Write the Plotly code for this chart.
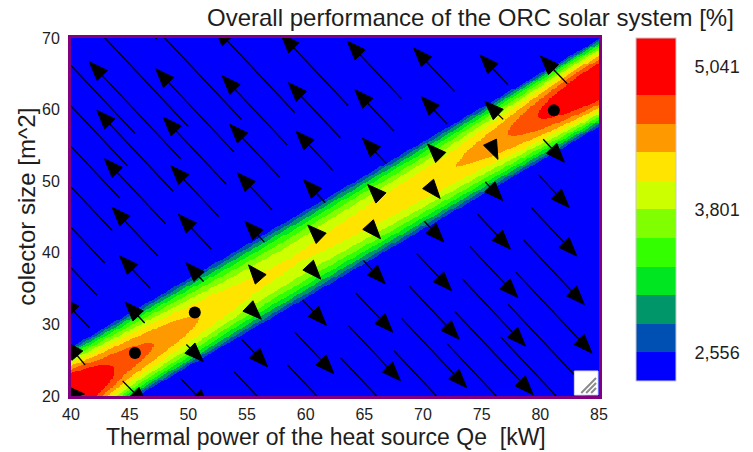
import numpy as np
import plotly.graph_objects as go

# ---- axes -------------------------------------------------------------
x_range = [40, 85]
y_range = [20, 70]
x_ticks = [40, 45, 50, 55, 60, 65, 70, 75, 80, 85]
y_ticks = [20, 30, 40, 50, 60, 70]

# ---- colour bar: labelled levels and band colours (bottom -> top) -----
bar_values = [2.556, 3.801, 5.041]
bar_labels = ["2,556", "3,801", "5,041"]
band_colors = ["#0000FF", "#0050B4", "#00966A", "#00E620", "#33FF00", "#80FF00",
               "#CCFF00", "#FFE400", "#FF9900", "#FF5000", "#FF0000", "#FF0000"]

# ---- ridge of the performance surface ---------------------------------
ridge_x = [40.0, 85.0]          # centre line end points (Qe)
ridge_y = [20.7, 63.7]          # centre line end points (collector size)
ridge_half_width = 4.41         # normal distance to the 2,556 contour
peak_x = [40, 43.5, 46.9, 50.6, 55, 59, 63, 68, 73.5, 77.5, 80, 85]
peak_val = [5.5, 4.80, 4.55, 4.31, 4.12, 4.06, 4.12, 4.20, 4.31, 4.55, 4.80, 5.35]
falloff = 1.5                   # drop outside the ridge band

# ---- vector grid ------------------------------------------------------
vec_x = [40.35, 45.45, 50.55, 55.65, 60.75, 65.85, 70.95, 76.05, 81.15]
vec_y = [20.35, 26.0, 31.65, 37.3, 42.95, 48.6, 54.25, 59.9, 65.55]

# ---- page geometry (pixels) -------------------------------------------
W, H = 753, 452
PL, PR, PT, PB = 71, 607, 38, 396
ppx = (PR - PL) / (x_range[1] - x_range[0])
ppy = (PB - PT) / (y_range[1] - y_range[0])


def xp(px):
    return (px - PL) / (PR - PL)


def yp(py):
    return (PB - py) / (PB - PT)


slope = (ridge_y[1] - ridge_y[0]) / (ridge_x[1] - ridge_x[0])
nrm = np.sqrt(1 + slope * slope)
base = bar_values[0]


def performance(X, Y):
    d = ((Y - ridge_y[0]) - slope * (X - ridge_x[0])) / nrm
    s = ridge_x[0] + ((X - ridge_x[0]) + slope * (Y - ridge_y[0])) / (1 + slope * slope)
    P = np.interp(s, peak_x, peak_val)
    q = (d / ridge_half_width) ** 2
    inside = base + (P - base) * (1 - q)
    outside = base - falloff * (q - 1)
    return np.where(q <= 1, inside, outside)


# ---- filled surface -----------------------------------------------------
gx = np.arange(x_range[0], x_range[1] + 1e-9, 0.125)
gy = np.arange(y_range[0], y_range[1] + 1e-9, 0.125)
GX, GY = np.meshgrid(gx, gy)
Z = np.round(performance(GX, GY), 3)

step = (bar_values[2] - bar_values[0]) / 10
zmin = bar_values[0] - step
zmax = bar_values[2] + step
n = len(band_colors)
cscale = []
for i, c in enumerate(band_colors):
    cscale.append([i / n, c])
    cscale.append([(i + 1) / n, c])

fig = go.Figure()
fig.add_trace(go.Heatmap(
    x=gx, y=gy, z=Z, zmin=zmin, zmax=zmax, colorscale=cscale, zsmooth=False,
    hoverinfo="skip",
    colorbar=dict(
        thickness=40, thicknessmode="pixels", len=343, lenmode="pixels",
        x=xp(645), xanchor="left", xpad=0, y=yp(38), yanchor="top", ypad=0,
        tickvals=bar_values, ticktext=bar_labels, ticks="outside", ticklen=15,
        tickcolor="rgba(0,0,0,0)", tickfont=dict(size=18, color="#1e1e1e"),
        outlinewidth=1, outlinecolor="#c8c8c8",
    ),
))

# ---- gradient arrows (centred on grid nodes, equal pixel scale) ----------
K = 35.4        # px per unit of gradient
LH, WH = 19.0, 14.5
DOT = 4.5
h = 1e-3
lx, ly, hx, hy, dx_, dy_ = [], [], [], [], [], []
for cx in vec_x:
    for cy in vec_y:
        gxv = -(performance(cx + h, cy) - performance(cx - h, cy)) / (2 * h)
        gyv = -(performance(cx, cy + h) - performance(cx, cy - h)) / (2 * h)
        ex, ey = K * gxv, K * gyv          # pixel vector, y up
        L = float(np.hypot(ex, ey))
        if L < DOT:
            dx_.append(cx)
            dy_.append(cy)
            continue
        ux, uy = ex / L, ey / L
        nx, ny = -uy, ux
        half = max(L, LH) / 2
        tip = (ux * half, uy * half)
        if L > LH:
            tail = (-ux * half, -uy * half)
            end = (tip[0] - ux * LH * 0.5, tip[1] - uy * LH * 0.5)
            lx += [cx + tail[0] / ppx, cx + end[0] / ppx, None]
            ly += [cy + tail[1] / ppy, cy + end[1] / ppy, None]
        bc = (tip[0] - ux * LH, tip[1] - uy * LH)
        pts = [tip, (bc[0] + nx * WH / 2, bc[1] + ny * WH / 2),
               (bc[0] - nx * WH / 2, bc[1] - ny * WH / 2), tip]
        hx += [cx + p[0] / ppx for p in pts] + [None]
        hy += [cy + p[1] / ppy for p in pts] + [None]

fig.add_trace(go.Scatter(x=lx, y=ly, mode="lines", line=dict(color="black", width=1.3),
                         hoverinfo="skip", showlegend=False))
fig.add_trace(go.Scatter(x=hx, y=hy, mode="lines", fill="toself", fillcolor="black",
                         line=dict(color="black", width=1), hoverinfo="skip", showlegend=False))
fig.add_trace(go.Scatter(x=dx_, y=dy_, mode="markers",
                         marker=dict(symbol="circle", size=12, color="black"),
                         hoverinfo="skip", showlegend=False))

# ---- resize grip in the lower right corner -------------------------------
shapes = [dict(type="rect", xref="paper", yref="paper", x0=xp(582), x1=xp(606),
               y0=yp(395), y1=yp(371), fillcolor="white", line=dict(color="#d4d4f4", width=1))]
for a in (589, 594, 599):
    shapes.append(dict(type="line", xref="paper", yref="paper", x0=xp(a), y0=yp(393),
                       x1=xp(604), y1=yp(393 - (604 - a)), line=dict(color="#8a8a8a", width=2)))

axis_common = dict(showgrid=False, zeroline=False, showline=True, linecolor="#800080",
                   linewidth=3, mirror=True, ticks="", tickfont=dict(size=16, color="#1e1e1e"))

fig.update_layout(
    width=W, height=H, autosize=False,
    margin=dict(l=PL, r=W - PR, t=PT, b=H - PB, pad=0),
    paper_bgcolor="white", plot_bgcolor="white",
    font=dict(family="Liberation Sans, Arial, sans-serif", color="#1e1e1e"),
    showlegend=False,
    xaxis=dict(range=x_range, tickvals=x_ticks, ticklabelstandoff=2, **axis_common),
    yaxis=dict(range=y_range, tickvals=y_ticks, ticklabelstandoff=5, **axis_common),
    shapes=shapes,
    annotations=[
        dict(text="Overall performance of the ORC solar system [%]", xref="paper", yref="paper",
             x=xp(746), y=yp(18), xanchor="right", yanchor="middle", showarrow=False,
             font=dict(size=24)),
        dict(text="Thermal power of the heat source Qe  [kW]", xref="paper", yref="paper",
             x=xp(330), y=yp(452), xanchor="center", yanchor="bottom", showarrow=False,
             font=dict(size=23)),
        dict(text="colector size [m^2]", xref="paper", yref="paper", textangle=-90,
             x=xp(25), y=yp(207), xanchor="center", yanchor="middle", showarrow=False,
             font=dict(size=24)),
    ],
)

fig.write_html("out.html")
